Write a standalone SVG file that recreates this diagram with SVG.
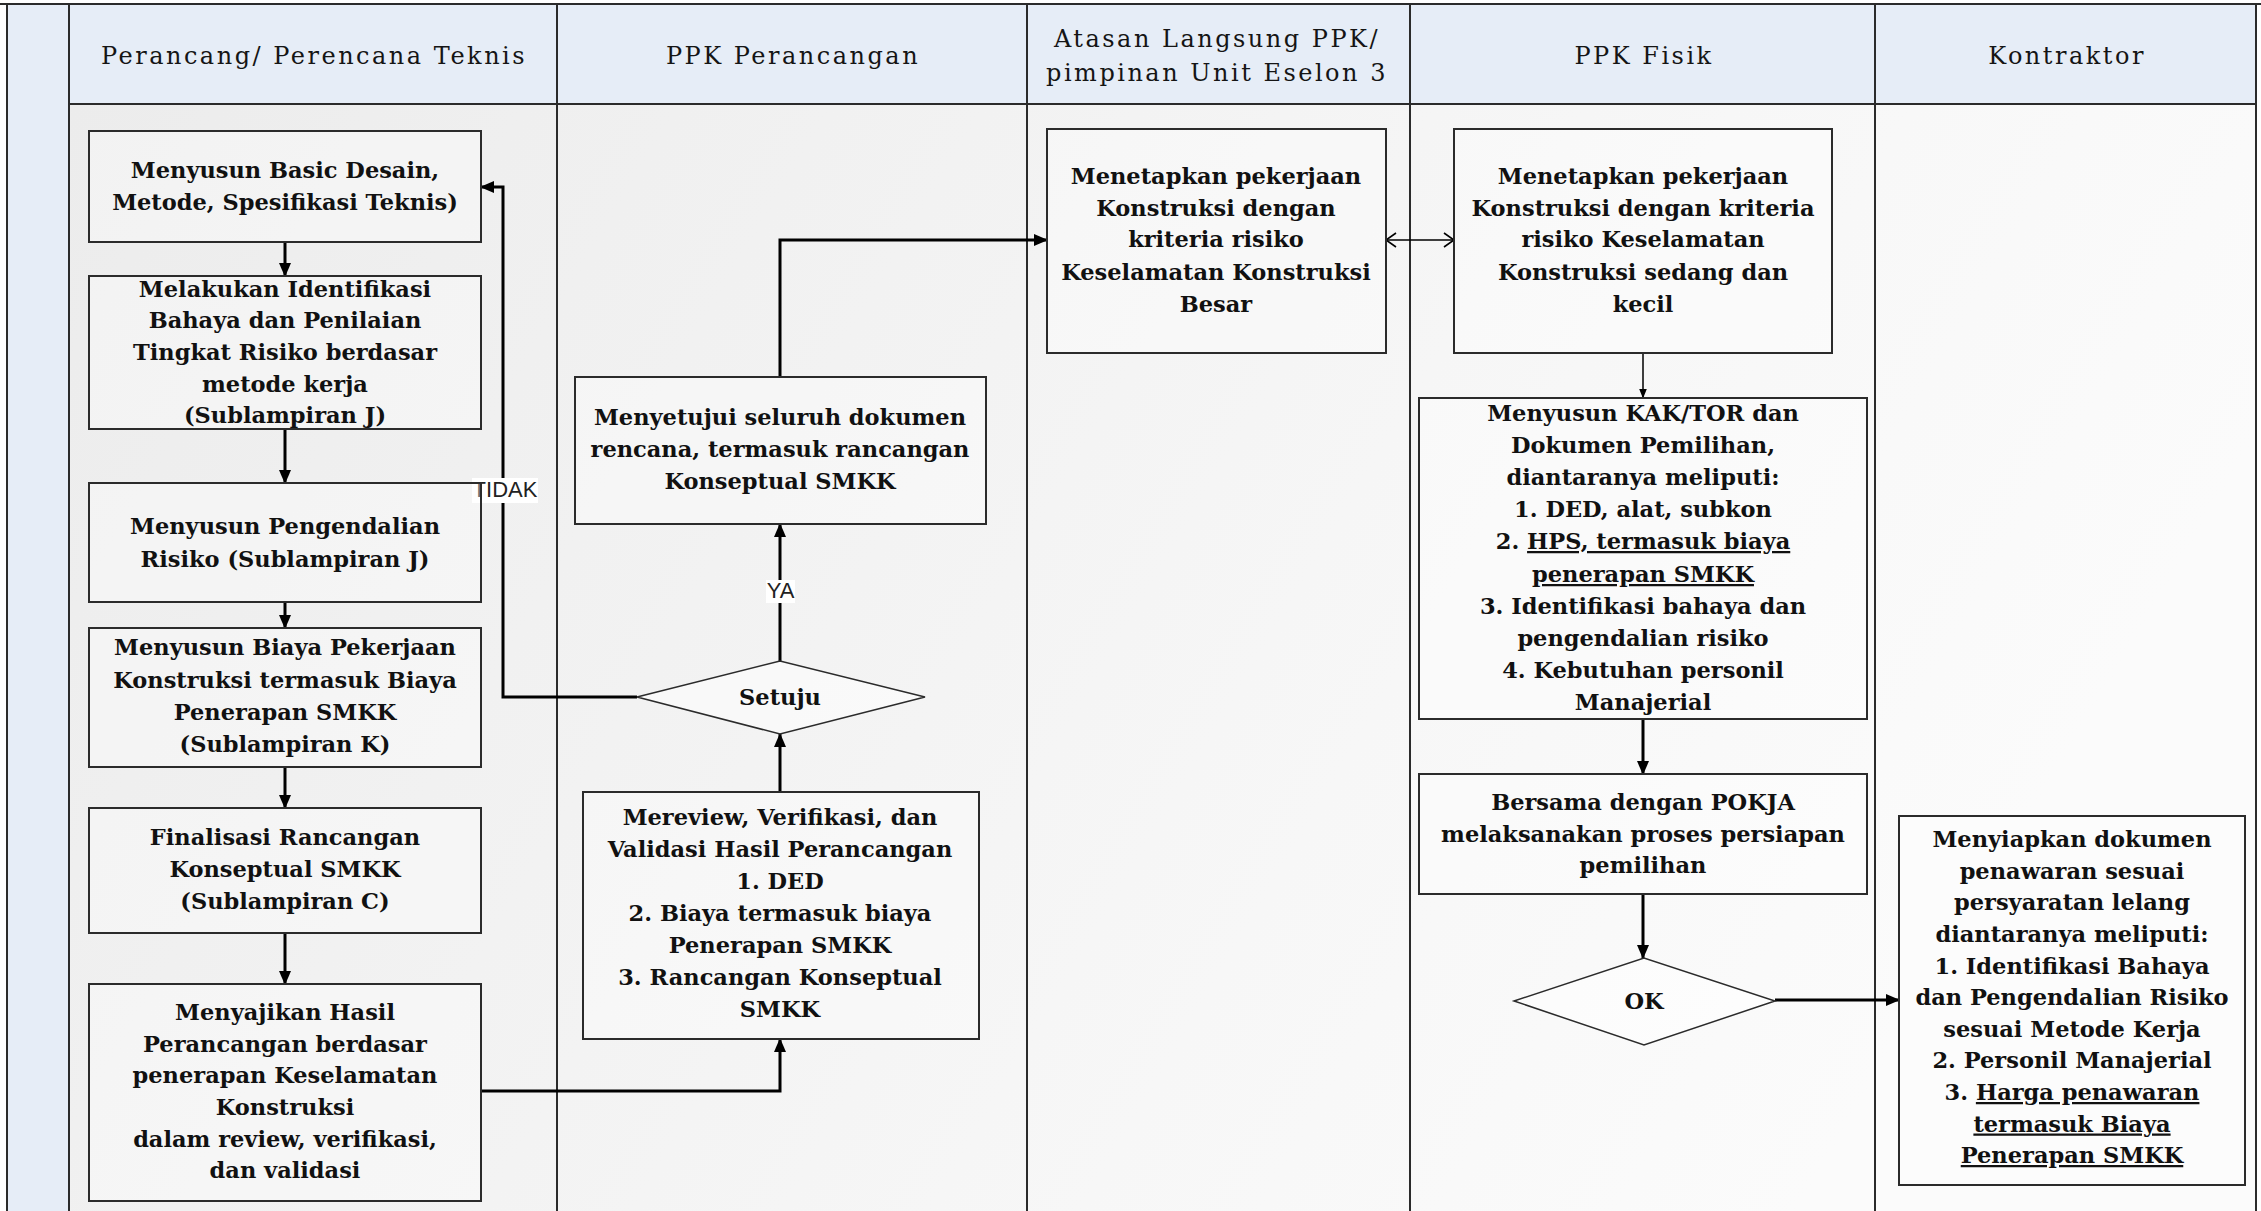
<svg xmlns="http://www.w3.org/2000/svg" width="2261" height="1211" viewBox="0 0 2261 1211">
<style>
.hdr{font-family:"DejaVu Serif","Liberation Serif",serif;font-size:24px;letter-spacing:2.5px;fill:#151515;text-anchor:middle}
.t{font-family:"DejaVu Serif","Liberation Serif",serif;font-weight:bold;font-size:22.5px;fill:#111;text-anchor:middle}
.lbl{font-family:"Liberation Sans",Arial,sans-serif;font-size:22px;fill:#222;text-anchor:middle}
.box{fill:#ffffff;fill-opacity:0.35;stroke:#2b2b2b;stroke-width:2}
.dia{fill:#ffffff;fill-opacity:0.5;stroke:#2b2b2b;stroke-width:1.5}
.lane{stroke:#2b2b2b;stroke-width:2}
.c{fill:none;stroke:#000;stroke-width:3}
.ct{fill:none;stroke:#000;stroke-width:1.5}
.u{text-decoration:underline}
</style>
<defs>
<linearGradient id="bg" x1="0" y1="0" x2="1" y2="0.3">
<stop offset="0" stop-color="#ececec"/>
<stop offset="0.45" stop-color="#f3f3f3"/>
<stop offset="0.7" stop-color="#f7f7f7"/>
<stop offset="1" stop-color="#fbfbfb"/>
</linearGradient>
<marker id="arr" markerUnits="userSpaceOnUse" viewBox="0 0 14 12" refX="13" refY="6" markerWidth="14" markerHeight="12" orient="auto">
<path d="M0,0 L14,6 L0,12 z" fill="#000"/>
</marker>
<marker id="arrs" markerUnits="userSpaceOnUse" viewBox="0 0 10 8" refX="9.5" refY="4" markerWidth="10" markerHeight="8" orient="auto">
<path d="M0,0 L10,4 L0,8 z" fill="#000"/>
</marker>
<marker id="open" markerUnits="userSpaceOnUse" viewBox="0 0 12 16" refX="11" refY="8" markerWidth="12" markerHeight="16" orient="auto-start-reverse">
<path d="M1,1 L11,8 L1,15" fill="none" stroke="#000" stroke-width="1.6"/>
</marker>
</defs>

<g id="background">
<rect x="0" y="0" width="2261" height="1211" fill="#ffffff"/>
<rect x="69" y="104" width="2188" height="1107" fill="url(#bg)"/>
<rect x="7" y="4" width="62" height="1207" fill="#e6edf7"/>
<rect x="69" y="4" width="2188" height="100" fill="#e6edf7"/>
</g>

<g id="lanes">
<line class="lane" x1="0" y1="4" x2="2261" y2="4" stroke-width="4"/>
<line class="lane" x1="7" y1="4" x2="7" y2="1211"/>
<line class="lane" x1="69" y1="4" x2="69" y2="1211"/>
<line class="lane" x1="557" y1="4" x2="557" y2="1211"/>
<line class="lane" x1="1027" y1="4" x2="1027" y2="1211"/>
<line class="lane" x1="1410" y1="4" x2="1410" y2="1211"/>
<line class="lane" x1="1875" y1="4" x2="1875" y2="1211"/>
<line class="lane" x1="2256" y1="4" x2="2256" y2="1211"/>
<line class="lane" x1="69" y1="104" x2="2256" y2="104"/>
<text class="hdr" x="314" y="64">Perancang/ Perencana Teknis</text>
<text class="hdr" x="793" y="64">PPK Perancangan</text>
<text class="hdr" x="1217" y="47">Atasan Langsung PPK/</text>
<text class="hdr" x="1217" y="81">pimpinan Unit Eselon 3</text>
<text class="hdr" x="1644" y="64">PPK Fisik</text>
<text class="hdr" x="2067" y="64">Kontraktor</text>
</g>

<g id="connectors">
<path class="c" d="M285,242 V276" marker-end="url(#arr)"/>
<path class="c" d="M285,429 V483" marker-end="url(#arr)"/>
<path class="c" d="M285,602 V628" marker-end="url(#arr)"/>
<path class="c" d="M285,767 V808" marker-end="url(#arr)"/>
<path class="c" d="M285,933 V984" marker-end="url(#arr)"/>
<path class="c" d="M481,1091 H780 V1039" marker-end="url(#arr)"/>
<path class="c" d="M780,792 V734" marker-end="url(#arr)"/>
<path class="c" d="M780,661 V524" marker-end="url(#arr)"/>
<path class="c" d="M637,697 H503 V187 H481" marker-end="url(#arr)"/>
<path class="c" d="M780,377 V240 H1047" marker-end="url(#arr)"/>
<path class="ct" d="M1386,240 H1454" marker-start="url(#open)" marker-end="url(#open)"/>
<path class="ct" d="M1643,353 V398" marker-end="url(#arrs)"/>
<path class="c" d="M1643,719 V774" marker-end="url(#arr)"/>
<path class="c" d="M1643,894 V958" marker-end="url(#arr)"/>
<path class="c" d="M1775,1000 H1899" marker-end="url(#arr)"/>
<rect x="472" y="478" width="66" height="25" fill="#ffffff"/>
<text class="lbl" x="505" y="497">TIDAK</text>
<rect x="766" y="580" width="29" height="23" fill="#ffffff"/>
<text class="lbl" x="780.5" y="598">YA</text>
</g>

<g id="n1">
<rect class="box" x="89" y="131" width="392" height="111"/>
<text class="t" x="285" y="177.5">Menyusun Basic Desain,</text>
<text class="t" x="285" y="209.5">Metode, Spesifikasi Teknis)</text>
</g>
<g id="n2">
<rect class="box" x="89" y="276" width="392" height="153"/>
<text class="t" x="285" y="296.5">Melakukan Identifikasi</text>
<text class="t" x="285" y="328">Bahaya dan Penilaian</text>
<text class="t" x="285" y="360">Tingkat Risiko berdasar</text>
<text class="t" x="285" y="391.5">metode kerja</text>
<text class="t" x="285" y="423">(Sublampiran J)</text>
</g>
<g id="n3">
<rect class="box" x="89" y="483" width="392" height="119"/>
<text class="t" x="285" y="534">Menyusun Pengendalian</text>
<text class="t" x="285" y="566.5">Risiko (Sublampiran J)</text>
</g>
<g id="n4">
<rect class="box" x="89" y="628" width="392" height="139"/>
<text class="t" x="285" y="655">Menyusun Biaya Pekerjaan</text>
<text class="t" x="285" y="687.5">Konstruksi termasuk Biaya</text>
<text class="t" x="285" y="719.5">Penerapan SMKK</text>
<text class="t" x="285" y="751.5">(Sublampiran K)</text>
</g>
<g id="n5">
<rect class="box" x="89" y="808" width="392" height="125"/>
<text class="t" x="285" y="845">Finalisasi Rancangan</text>
<text class="t" x="285" y="877">Konseptual SMKK</text>
<text class="t" x="285" y="909">(Sublampiran C)</text>
</g>
<g id="n6">
<rect class="box" x="89" y="984" width="392" height="217"/>
<text class="t" x="285" y="1020">Menyajikan Hasil</text>
<text class="t" x="285" y="1051.5">Perancangan berdasar</text>
<text class="t" x="285" y="1083">penerapan Keselamatan</text>
<text class="t" x="285" y="1115">Konstruksi</text>
<text class="t" x="285" y="1146.5">dalam review, verifikasi,</text>
<text class="t" x="285" y="1178">dan validasi</text>
</g>
<g id="n7">
<rect class="box" x="575" y="377" width="411" height="147"/>
<text class="t" x="780" y="425">Menyetujui seluruh dokumen</text>
<text class="t" x="780" y="457">rencana, termasuk rancangan</text>
<text class="t" x="780" y="489">Konseptual SMKK</text>
</g>
<g id="n8">
<polygon class="dia" points="637,697 780,661 925,697 780,734"/>
<text class="t" x="780" y="705">Setuju</text>
</g>
<g id="n9">
<rect class="box" x="583" y="792" width="396" height="247"/>
<text class="t" x="780" y="825">Mereview, Verifikasi, dan</text>
<text class="t" x="780" y="857">Validasi Hasil Perancangan</text>
<text class="t" x="780" y="889">1. DED</text>
<text class="t" x="780" y="921">2. Biaya termasuk biaya</text>
<text class="t" x="780" y="953">Penerapan SMKK</text>
<text class="t" x="780" y="985">3. Rancangan Konseptual</text>
<text class="t" x="780" y="1017">SMKK</text>
</g>
<g id="n10">
<rect class="box" x="1047" y="129" width="339" height="224"/>
<text class="t" x="1216" y="184">Menetapkan pekerjaan</text>
<text class="t" x="1216" y="216">Konstruksi dengan</text>
<text class="t" x="1216" y="247">kriteria risiko</text>
<text class="t" x="1216" y="280">Keselamatan Konstruksi</text>
<text class="t" x="1216" y="312">Besar</text>
</g>
<g id="n11">
<rect class="box" x="1454" y="129" width="378" height="224"/>
<text class="t" x="1643" y="184">Menetapkan pekerjaan</text>
<text class="t" x="1643" y="216">Konstruksi dengan kriteria</text>
<text class="t" x="1643" y="247">risiko Keselamatan</text>
<text class="t" x="1643" y="280">Konstruksi  sedang dan</text>
<text class="t" x="1643" y="312">kecil</text>
</g>
<g id="n12">
<rect class="box" x="1419" y="398" width="448" height="321"/>
<text class="t" x="1643" y="421">Menyusun KAK/TOR dan</text>
<text class="t" x="1643" y="453">Dokumen Pemilihan,</text>
<text class="t" x="1643" y="485">diantaranya meliputi:</text>
<text class="t" x="1643" y="517">1. DED, alat, subkon</text>
<text class="t" x="1643" y="549">2. <tspan class="u">HPS, termasuk biaya</tspan></text>
<text class="t" x="1643" y="582"><tspan class="u">penerapan SMKK</tspan></text>
<text class="t" x="1643" y="614">3. Identifikasi bahaya dan</text>
<text class="t" x="1643" y="646">pengendalian risiko</text>
<text class="t" x="1643" y="678">4. Kebutuhan personil</text>
<text class="t" x="1643" y="710">Manajerial</text>
</g>
<g id="n13">
<rect class="box" x="1419" y="774" width="448" height="120"/>
<text class="t" x="1643" y="810">Bersama dengan POKJA</text>
<text class="t" x="1643" y="842">melaksanakan proses persiapan</text>
<text class="t" x="1643" y="873">pemilihan</text>
</g>
<g id="n14">
<polygon class="dia" points="1514,1001 1644,958 1775,1001 1644,1045"/>
<text class="t" x="1644" y="1009">OK</text>
</g>
<g id="n15">
<rect class="box" x="1899" y="816" width="346" height="369"/>
<text class="t" x="2072" y="847">Menyiapkan dokumen</text>
<text class="t" x="2072" y="878.5">penawaran sesuai</text>
<text class="t" x="2072" y="910">persyaratan lelang</text>
<text class="t" x="2072" y="942">diantaranya meliputi:</text>
<text class="t" x="2072" y="973.5">1. Identifikasi Bahaya</text>
<text class="t" x="2072" y="1005">dan Pengendalian Risiko</text>
<text class="t" x="2072" y="1037">sesuai Metode Kerja</text>
<text class="t" x="2072" y="1068">2. Personil Manajerial</text>
<text class="t" x="2072" y="1100">3. <tspan class="u">Harga penawaran</tspan></text>
<text class="t" x="2072" y="1131.5"><tspan class="u">termasuk Biaya</tspan></text>
<text class="t" x="2072" y="1163"><tspan class="u">Penerapan SMKK</tspan></text>
</g>
</svg>
